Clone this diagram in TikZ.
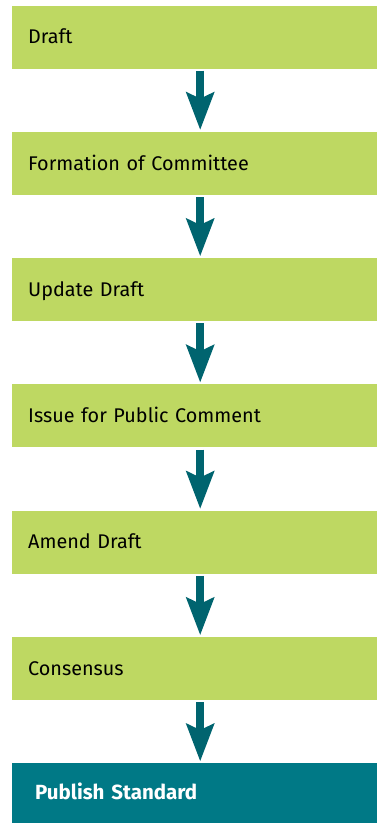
\documentclass[tikz,border=0pt]{standalone}
\usepackage{fontspec}
\setmainfont{Fira Sans}
\usetikzlibrary{arrows.meta,calc}
\definecolor{stepgreen}{HTML}{BED862}
\definecolor{arrowteal}{HTML}{00646F}
\definecolor{finalteal}{HTML}{007986}
\tikzset{
  stepbox/.style={fill=stepgreen, draw=none, anchor=north west,
    minimum width=365pt, minimum height=63pt, inner xsep=16pt,
    text width=333pt, align=left, text height=13.5pt, text depth=0pt,
    font=\fontsize{19.8pt}{22pt}\selectfont, text=black},
  finalbox/.style={stepbox, fill=finalteal, minimum height=60pt, inner xsep=23pt,
    text width=319pt, text=white, font=\fontsize{20.5pt}{22pt}\selectfont\bfseries},
  flowarrow/.style={draw=arrowteal, line width=8pt, shorten <=2pt, shorten >=2pt,
    -{Stealth[length=38pt, width=29pt, inset=7pt, line width=0pt]}}
}
\begin{document}
\begin{tikzpicture}[x=1pt,y=1pt]
\useasboundingbox (0,0) rectangle (377,-823);
\node[stepbox] (s1) at (12,-5.3) {Draft};
\node[stepbox] (s2) at (12,-131.6) {Formation of Committee};
\node[stepbox] (s3) at (12,-257.9) {Update Draft};
\node[stepbox] (s4) at (12,-384.2) {Issue for Public Comment};
\node[stepbox] (s5) at (12,-510.5) {Amend Draft};
\node[stepbox] (s6) at (12,-636.8) {Consensus};
\node[finalbox] (s7) at (12,-763) {Publish Standard};
\foreach \a/\b in {s1/s2,s2/s3,s3/s4,s4/s5,s5/s6,s6/s7}{
  \draw[flowarrow] ([xshift=5.5pt]\a.south) -- ([xshift=5.5pt]\b.north);
}
\end{tikzpicture}
\end{document}
